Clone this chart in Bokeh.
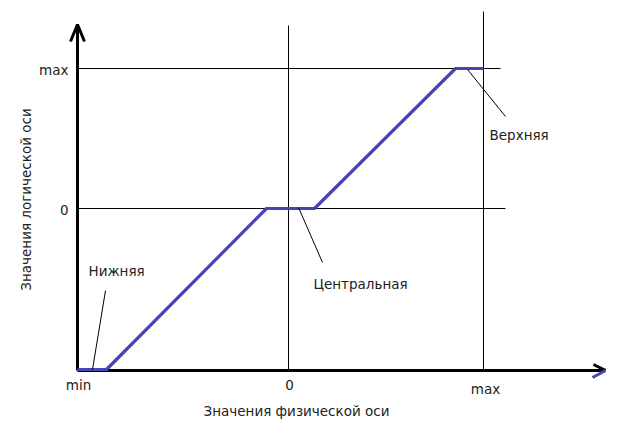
import math
from bokeh.plotting import figure
from bokeh.models import Range1d
from bokeh.core.properties import value
from bokeh.embed import file_html
from bokeh.resources import INLINE

# Data: physical axis (x) and logical axis (y); origin at the "0" marks
phys_ticks = [-211, 0, 195]
phys_labels = ["min", "0", "max"]
log_ticks = [-161, 0, 140]
log_labels = ["min", "0", "max"]

# Transfer curve: lower dead zone, slope, central dead zone, slope, upper dead zone
curve_x = [-211, -182, -22, 26, 167, 195]
curve_y = [-161, -161, 0, 0, 140, 140]

zone_names = ["Нижняя", "Центральная", "Верхняя"]
zone_points_x = [-196, 10, 179]
zone_points_y = [-161, 1, 139]
zone_leader_x = [-183, 34, 217]
zone_leader_y = [-82, -54, 92]
zone_label_x = [-200, 25, 201]
zone_label_y = [-62, -75, 74]

x_title = "Значения физической оси"
y_title = "Значения логической оси"

FONT = value("DejaVu Sans")
FS = "13.5px"
TXT = "#222222"
BLUE = "#4545B5"

p = figure(width=606, height=425, output_backend="svg", toolbar_location=None,
           x_range=Range1d(-288, 318), y_range=Range1d(-217, 208),
           min_border=0, outline_line_color=None)
p.axis.visible = False
p.grid.visible = False
p.background_fill_color = "white"

x0, x1 = phys_ticks[0], phys_ticks[2]
y0, y1 = log_ticks[0], log_ticks[2]

# thin reference lines
p.segment(x0=[x0, x0], y0=[log_ticks[2], log_ticks[1]],
          x1=[212, 217], y1=[log_ticks[2], log_ticks[1]],
          line_color="black", line_width=1)
p.segment(x0=[phys_ticks[1], phys_ticks[2]], y0=[y0 - 1, y0 - 1],
          x1=[phys_ticks[1], phys_ticks[2]], y1=[183, 197],
          line_color="black", line_width=1)

# main axes
p.segment(x0=[x0, x0], y0=[y0 - 1, y0 - 1], x1=[x0, 316], y1=[183, y0 - 1],
          line_color="black", line_width=3)
# arrow heads
p.multi_line(xs=[[x0 - 7, x0, x0 + 7]], ys=[[167, 184, 167]],
             line_color="black", line_width=3)
p.line(x=[305, 317], y=[-156, -162], line_color="black", line_width=3)
p.line(x=[304, 317], y=[-169, -162], line_color=BLUE, line_width=3)

# curve
p.line(x=curve_x, y=curve_y, line_color=BLUE, line_width=3.2)

# leaders
p.segment(x0=zone_points_x, y0=zone_points_y,
          x1=zone_leader_x, y1=zone_leader_y,
          line_color="black", line_width=1)

# zone labels
p.text(x=zone_label_x, y=zone_label_y,
       text=zone_names, text_font=FONT, text_font_size=FS,
       text_align="left", text_baseline="middle", text_color=TXT)

# y tick labels
p.text(x=[-220, -220], y=[139, -1], text=[log_labels[2], log_labels[1]],
       text_font=FONT, text_font_size=FS, text_align="right",
       text_baseline="middle", text_color=TXT)
# x tick labels
p.text(x=[-210, 1, 197], y=[-176, -176, -180], text=phys_labels,
       text_font=FONT, text_font_size=FS, text_align="center",
       text_baseline="middle", text_color=TXT)

# titles
p.text(x=[8], y=[-202], text=[x_title], text_font=FONT, text_font_size=FS,
       text_align="center", text_baseline="middle", text_color=TXT)
p.text(x=[-263], y=[9], text=[y_title], text_font=FONT, text_font_size=FS,
       text_align="center", text_baseline="middle", angle=math.pi / 2,
       text_color=TXT)

open("out.html", "w").write(file_html(p, INLINE))
